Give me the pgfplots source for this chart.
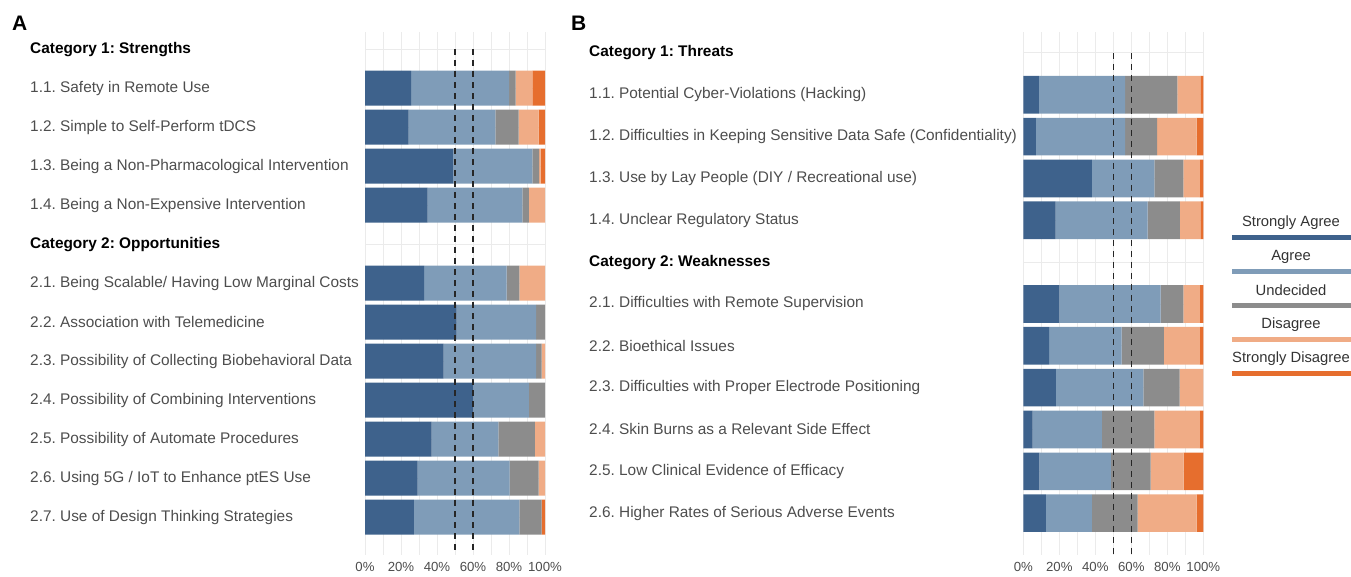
\documentclass[border=0pt]{standalone}
\usepackage{fontspec}
\setmainfont{Liberation Sans}
\usepackage{pgfplots}
\usepackage{pgfplotstable}
\pgfplotsset{compat=1.18}
\frenchspacing

\definecolor{sagree}{RGB}{62,98,140}
\definecolor{agree}{RGB}{127,156,184}
\definecolor{undec}{RGB}{140,140,140}
\definecolor{disag}{RGB}{240,172,134}
\definecolor{sdisag}{RGB}{230,110,46}
\definecolor{gridc}{RGB}{235,235,235}
\definecolor{labc}{RGB}{77,77,77}

% row = position from the top (0 and 5 are the category headings)
\pgfplotstableread{
row sa   a    u    d    sd
1   25.6 54.4 3.7  9.3  7.0
2   24.3 48.1 13.0 11.1 3.5
3   49.1 43.9 3.7  0.9  2.4
4   34.8 52.6 3.7  8.9  0
6   32.8 45.9 7.0  14.3 0
7   50.9 44.1 5.0  0    0
8   43.7 51.3 3.1  1.9  0
9   60.2 30.9 8.9  0    0
10  37.0 37.1 20.3 5.6  0
11  29.3 51.1 16.1 3.5  0
12  27.2 58.5 12.4 0    1.9
}\dataA

\pgfplotstableread{
row sa   a    u    d    sd
1   8.7  47.8 29.1 12.7 1.7
2   7.0  49.5 17.9 21.9 3.7
3   38.1 34.7 16.1 9.2  1.9
4   18.0 51.1 17.9 11.3 1.7
6   20.0 56.3 12.6 9.2  1.9
7   14.3 40.3 23.5 20.0 1.9
8   18.1 48.6 20.2 13.1 0
9   5.2  38.5 29.1 25.3 1.9
10  8.9  39.8 22.0 18.4 10.9
11  12.6 25.5 25.4 32.8 3.7
}\dataB

\pgfplotsset{
  likert/.style={
    scale only axis, anchor=north west,
    xbar stacked, bar width=0.9,
    xmin=0, xmax=100, y dir=reverse,
    axis line style={draw=none}, tick style={draw=none},
    xtick={0,20,...,100}, minor xtick={10,30,...,90},
    xticklabels={0\%,20\%,40\%,60\%,80\%,100\%},
    xmajorgrids, xminorgrids, ymajorgrids,
    grid style={gridc, line width=0.9pt},
    minor grid style={gridc, line width=0.9pt},
    xticklabel style={font=\fontsize{13.2}{15}\selectfont, text=labc, yshift=-4pt},
    yticklabel style={anchor=west, inner sep=0pt,
      font=\fontsize{15.4}{18}\selectfont, text=labc},
  },
  refl/.style={scale only axis, anchor=north west,
    xmin=0, xmax=100, y dir=reverse, hide axis},
}

\newcommand{\hd}[1]{{\color{black}\bfseries #1}}

\begin{document}
\begin{tikzpicture}

% ---------------- panel A
\begin{axis}[likert,
  at={(365pt,-32pt)}, width=180pt, height=523pt,
  ymin=-0.44, ymax=12.97,
  ytick={0,...,12},
  yticklabel style={xshift=-335pt},
  yticklabels={
    \hd{Category 1: Strengths},
    1.1. Safety in Remote Use,
    1.2. Simple to Self-Perform tDCS,
    1.3. Being a Non-Pharmacological Intervention,
    1.4. Being a Non-Expensive Intervention,
    \hd{Category 2: Opportunities},
    2.1. Being Scalable/ Having Low Marginal Costs,
    2.2. Association with Telemedicine,
    2.3. Possibility of Collecting Biobehavioral Data,
    2.4. Possibility of Combining Interventions,
    2.5. Possibility of Automate Procedures,
    2.6. Using 5G / IoT to Enhance ptES Use,
    2.7. Use of Design Thinking Strategies},
]
\addplot[fill=sagree, draw=none] table[x=sa, y=row]{\dataA};
\addplot[fill=agree,  draw=none] table[x=a,  y=row]{\dataA};
\addplot[fill=undec,  draw=none] table[x=u,  y=row]{\dataA};
\addplot[fill=disag,  draw=none] table[x=d,  y=row]{\dataA};
\addplot[fill=sdisag, draw=none] table[x=sd, y=row]{\dataA};
\end{axis}
\begin{axis}[refl, at={(365pt,-32pt)}, width=180pt, height=523pt,
  ymin=-0.44, ymax=12.97]
\addplot[black!85, line width=1.4pt, dash pattern=on 6pt off 5pt] coordinates {(50,0) (50,12.97)};
\addplot[black!85, line width=1.4pt, dash pattern=on 6pt off 5pt] coordinates {(60,0) (60,12.97)};
\end{axis}

% ---------------- panel B
\begin{axis}[likert,
  at={(1023.3pt,-32pt)}, width=180pt, height=523pt,
  ymin=-0.5, ymax=12.0,
  ytick={0,...,11},
  yticklabel style={xshift=-434.3pt},
  yticklabels={
    \hd{Category 1: Threats},
    1.1. Potential Cyber-Violations (Hacking),
    1.2. Difficulties in Keeping Sensitive Data Safe (Confidentiality),
    1.3. Use by Lay People (DIY / Recreational use),
    1.4. Unclear Regulatory Status,
    \hd{Category 2: Weaknesses},
    2.1. Difficulties with Remote Supervision,
    2.2. Bioethical Issues,
    2.3. Difficulties with Proper Electrode Positioning,
    2.4. Skin Burns as a Relevant Side Effect,
    2.5. Low Clinical Evidence of Efficacy,
    2.6. Higher Rates of Serious Adverse Events},
]
\addplot[fill=sagree, draw=none] table[x=sa, y=row]{\dataB};
\addplot[fill=agree,  draw=none] table[x=a,  y=row]{\dataB};
\addplot[fill=undec,  draw=none] table[x=u,  y=row]{\dataB};
\addplot[fill=disag,  draw=none] table[x=d,  y=row]{\dataB};
\addplot[fill=sdisag, draw=none] table[x=sd, y=row]{\dataB};
\end{axis}
\begin{axis}[refl, at={(1023.3pt,-32pt)}, width=180pt, height=523pt,
  ymin=-0.5, ymax=12.0]
\addplot[black!85, line width=1.4pt, dash pattern=on 6pt off 5pt] coordinates {(50,0) (50,12.0)};
\addplot[black!85, line width=1.4pt, dash pattern=on 6pt off 5pt] coordinates {(60,0) (60,12.0)};
\end{axis}

% ---------------- panel letters
\node[anchor=base west, inner sep=0pt, font=\fontsize{21}{24}\bfseries\selectfont] at (12pt,-31pt) {A};
\node[anchor=base west, inner sep=0pt, font=\fontsize{21}{24}\bfseries\selectfont] at (571pt,-31pt) {B};

% ---------------- legend
\foreach \lab/\col [count=\k from 0] in {Strongly Agree/sagree, Agree/agree, Undecided/undec, Disagree/disag, Strongly Disagree/sdisag}{
  \node[font=\fontsize{14.8}{17}\selectfont, text=black!80, inner sep=0pt]
    at (1291pt,{-223pt-33.8pt*\k}) {\lab};
  \fill[\col] (1232pt,{-235.5pt-33.8pt*\k}) rectangle (1360pt,{-240.5pt-33.8pt*\k});
}

\pgfresetboundingbox
\path[use as bounding box] (0pt,0pt) rectangle (1351pt,-577pt);
\end{tikzpicture}
\end{document}
